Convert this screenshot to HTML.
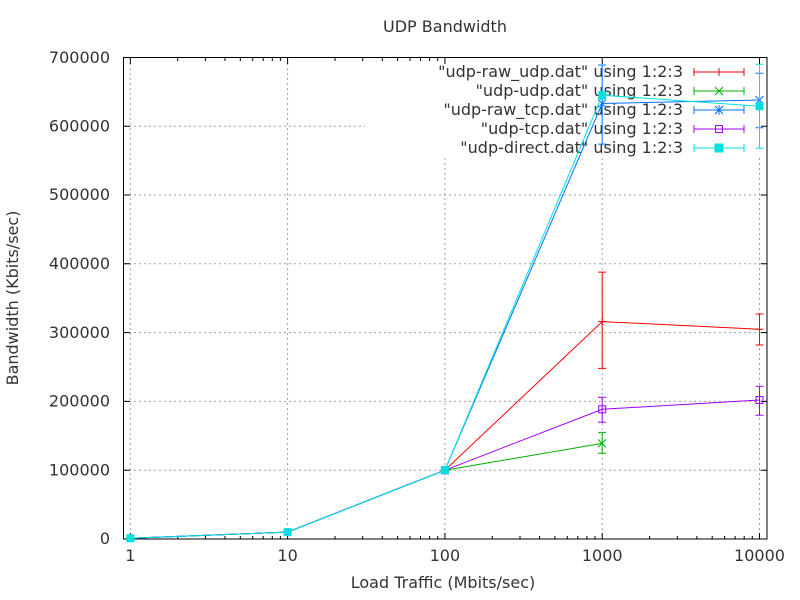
<!DOCTYPE html>
<html><head><meta charset="utf-8"><style>
html,body{margin:0;padding:0;background:#fff;}
svg{display:block;}
text{font-family:"DejaVu Sans","Liberation Sans",sans-serif;font-size:16px;fill:#333;}
</style></head><body>
<svg width="800" height="600" viewBox="0 0 800 600" xmlns="http://www.w3.org/2000/svg">
<rect width="800" height="600" fill="#fff"/>
<g stroke="#a0a0a0" stroke-width="1" stroke-dasharray="2,3" fill="none">
<line x1="124" y1="470.2" x2="767" y2="470.2"/>
<line x1="124" y1="401.4" x2="767" y2="401.4"/>
<line x1="124" y1="332.6" x2="767" y2="332.6"/>
<line x1="124" y1="263.8" x2="767" y2="263.8"/>
<line x1="124" y1="195" x2="767" y2="195"/>
<line x1="124" y1="126.2" x2="365" y2="126.2"/>
<line x1="130.3" y1="58" x2="130.3" y2="539"/>
<line x1="287.6" y1="58" x2="287.6" y2="539"/>
<line x1="444.9" y1="158" x2="444.9" y2="539"/>
<line x1="602.2" y1="158" x2="602.2" y2="539"/>
<line x1="759.5" y1="158" x2="759.5" y2="539"/>
</g>
<rect x="123.5" y="57.5" width="643.5" height="481.5" fill="none" stroke="#000" stroke-width="1"/>
<g stroke="#000" stroke-width="1">
<path d="M124 470.2h6M124 401.4h6M124 332.6h6M124 263.8h6M124 195h6M124 126.2h6M767 470.2h-6M767 401.4h-6M767 332.6h-6M767 263.8h-6M767 195h-6M767 126.2h-6"/>
<path d="M130.3 539v-6M287.6 539v-6M444.9 539v-6M602.2 539v-6M759.5 539v-6M130.3 58v6M287.6 58v6M444.9 58v6M602.2 58v6M759.5 58v6"/>
<path d="M177.7 539v-3M205.4 539v-3M225 539v-3M240.3 539v-3M252.7 539v-3M263.2 539v-3M272.3 539v-3M280.4 539v-3
M335 539v-3M362.7 539v-3M382.3 539v-3M397.6 539v-3M410 539v-3M420.5 539v-3M429.6 539v-3M437.7 539v-3
M492.3 539v-3M520 539v-3M539.6 539v-3M554.9 539v-3M567.3 539v-3M577.8 539v-3M586.9 539v-3M595 539v-3
M649.6 539v-3M677.3 539v-3M696.9 539v-3M712.2 539v-3M724.6 539v-3M735.1 539v-3M744.2 539v-3M752.3 539v-3
M177.7 58v3M205.4 58v3M225 58v3M240.3 58v3M252.7 58v3M263.2 58v3M272.3 58v3M280.4 58v3
M335 58v3M362.7 58v3M382.3 58v3M397.6 58v3M410 58v3M420.5 58v3M429.6 58v3M437.7 58v3"/>
</g>
<g text-anchor="end">
<text x="110" y="544">0</text>
<text x="110" y="475.5">100000</text>
<text x="110" y="406.5">200000</text>
<text x="110" y="338">300000</text>
<text x="110" y="269">400000</text>
<text x="110" y="200">500000</text>
<text x="110" y="131.5">600000</text>
<text x="110" y="63">700000</text>
</g>
<g text-anchor="middle">
<text x="130.3" y="561">1</text>
<text x="287.6" y="561">10</text>
<text x="444.9" y="561">100</text>
<text x="602.2" y="561">1000</text>
<text x="759.5" y="561">10000</text>
<text x="445" y="32">UDP Bandwidth</text>
<text x="443" y="588">Load Traffic (Mbits/sec)</text>
<text transform="translate(18,298) rotate(-90)">Bandwidth (Kbits/sec)</text>
</g>
<g text-anchor="end">
<text x="683" y="77">"udp-raw_udp.dat" using 1:2:3</text>
<text x="683" y="96">"udp-udp.dat" using 1:2:3</text>
<text x="683" y="115">"udp-raw_tcp.dat" using 1:2:3</text>
<text x="683" y="134">"udp-tcp.dat" using 1:2:3</text>
<text x="683" y="153">"udp-direct.dat" using 1:2:3</text>
</g>
<g fill="none" stroke-width="1">
<g stroke="#ff0000"><path d="M694 72h50M694 68v8M744 68v8M719 68v8"/></g>
<g stroke="#00b000"><path d="M694 91h50M694 87v8M744 87v8M715 87l8 8M723 87l-8 8"/></g>
<g stroke="#0070ff"><path d="M694 110h50M694 106v8M744 106v8M715 106l8 8M723 106l-8 8M719 105v10"/></g>
<g stroke="#a000ff"><path d="M694 129h50M694 125v8M744 125v8"/><rect x="715.5" y="125.5" width="7" height="7"/></g>
<g stroke="#00e0e0"><path d="M694 148h50M694 144v8M744 144v8"/><rect x="715" y="144" width="8" height="8" fill="#00e0e0"/></g>
</g>
<g fill="none" stroke-width="1">
<g stroke="#ff0000">
<polyline points="130.3,538.3 287.6,532.1 444.9,470.2 602.2,321.6 759.5,329.2"/>
<path d="M602.2 272.1V368.4M598 272.1h8M598 368.4h8M759.5 314V345M755.5 314h8M755.5 345h8"/>
<path d="M598 321.6h8M602.2 317.6v8M755.5 329.2h8M759.5 325.2v8M126.3 538.3h8M283.6 532.1h8M287.6 528v8M440.9 470.2h8"/>
</g>
<g stroke="#00b000">
<polyline points="130.3,538.3 287.6,532.1 444.9,470.2 602.2,443.4"/>
<path d="M602.2 432.4V453.3M598 432.4h8M598 453.3h8M598 439.4l8 8M606 439.4l-8 8"/>
</g>
<g stroke="#a000ff">
<polyline points="130.3,538.3 287.6,532.1 444.9,470.2 602.2,409.3 759.5,400"/>
<path d="M602.2 397.3V422.3M598 397.3h8M598 422.3h8M759.5 386.3V415.2M755.5 386.3h8M755.5 415.2h8"/>
<rect x="598.7" y="405.8" width="7" height="7"/><rect x="756" y="396.5" width="7" height="7"/>
<rect x="441.4" y="466.7" width="7" height="7"/>
</g>
<g stroke="#0070ff">
<polyline points="130.3,538.3 287.6,532.1 444.9,470.2 602.2,103.5 759.5,100"/>
<path d="M602.2 65V144.1M598 65h8M598 144.1h8M759.5 73.3V127.7M755.5 73.3h8M755.5 127.7h8"/>
<path d="M598 99.5l8 8M606 99.5l-8 8M755.5 96l8 8M763.5 96l-8 8"/>
</g>
<g stroke="#00e0e0">
<polyline points="130.3,538.3 287.6,532.1 444.9,470.2 602.2,95.2 759.5,106.2"/>
<path d="M759.5 64.3V148.3M755.5 64.3h8M755.5 148.3h8"/>
</g>
<g fill="#00e0e0" stroke="none">
<rect x="126.3" y="534.3" width="8" height="8"/>
<rect x="283.6" y="528.1" width="8" height="8"/>
<rect x="440.9" y="466.2" width="8" height="8"/>
<rect x="598.2" y="91.2" width="8" height="8"/>
<rect x="755.5" y="102.2" width="8" height="8"/>
</g>
</g>
</svg>
</body></html>
